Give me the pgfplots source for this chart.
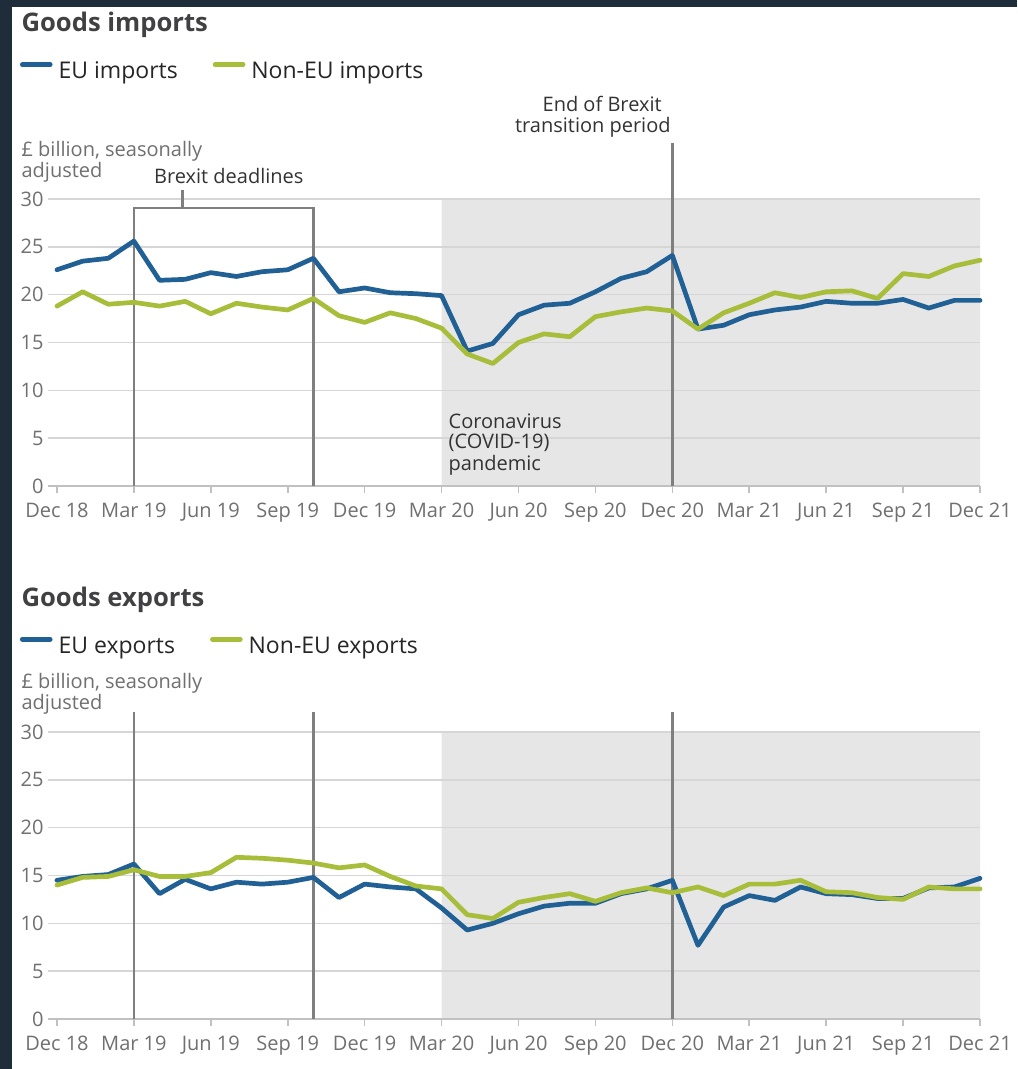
\documentclass[border=0pt]{standalone}
\usepackage{fontspec}
\setmainfont{Open Sans}
\usepackage{pgfplots}
\pgfplotsset{compat=1.18}
\usepackage{pgfplotstable}

\definecolor{euBlue}{HTML}{206095}
\definecolor{nonEU}{HTML}{A8BD3A}
\definecolor{shade}{HTML}{E6E6E6}
\definecolor{gridc}{HTML}{D6D6D6}
\definecolor{ticktxt}{HTML}{707071}
\definecolor{annot}{HTML}{333333}
\definecolor{titlec}{HTML}{414042}
\definecolor{darkbg}{HTML}{1F2D3B}
\definecolor{vline}{HTML}{7F7F7F}

% month index: 0 = Dec 18 ... 36 = Dec 21
\pgfplotstableread{
m eu noneu
0 22.6 18.8
1 23.5 20.3
2 23.8 19.0
3 25.6 19.2
4 21.5 18.8
5 21.6 19.3
6 22.3 18.0
7 21.9 19.1
8 22.4 18.7
9 22.6 18.4
10 23.8 19.6
11 20.3 17.8
12 20.7 17.1
13 20.2 18.1
14 20.1 17.5
15 19.9 16.5
16 14.1 13.8
17 14.9 12.8
18 17.9 15.0
19 18.9 15.9
20 19.1 15.6
21 20.3 17.7
22 21.7 18.2
23 22.4 18.6
24 24.1 18.3
25 16.4 16.4
26 16.8 18.1
27 17.9 19.1
28 18.4 20.2
29 18.7 19.7
30 19.3 20.3
31 19.1 20.4
32 19.1 19.6
33 19.5 22.2
34 18.6 21.9
35 19.4 23.0
36 19.4 23.6
}\imports

\pgfplotstableread{
m eu noneu
0 14.5 14.0
1 14.9 14.8
2 15.1 14.9
3 16.2 15.6
4 13.1 14.9
5 14.6 14.9
6 13.6 15.3
7 14.3 16.9
8 14.1 16.8
9 14.3 16.6
10 14.8 16.3
11 12.7 15.8
12 14.1 16.1
13 13.8 14.9
14 13.6 13.9
15 11.6 13.6
16 9.3 10.9
17 10.0 10.5
18 11.0 12.2
19 11.8 12.7
20 12.1 13.1
21 12.1 12.3
22 13.1 13.2
23 13.6 13.7
24 14.5 13.2
25 7.7 13.8
26 11.7 12.9
27 12.9 14.1
28 12.4 14.1
29 13.8 14.5
30 13.1 13.3
31 13.0 13.2
32 12.6 12.7
33 12.6 12.5
34 13.7 13.8
35 13.8 13.6
36 14.7 13.6
}\exports

\newcommand\smallfont{\fontsize{10}{12}\selectfont}

\pgfplotsset{
  tradeaxis/.style={
    width=466pt, height=143.5pt, scale only axis,
    xmin=-0.35, xmax=36, ymin=0, ymax=30,
    ytick={0,5,...,30},
    xtick={0,3,...,36},
    xticklabels={Dec 18,Mar 19,Jun 19,Sep 19,Dec 19,Mar 20,Jun 20,Sep 20,Dec 20,Mar 21,Jun 21,Sep 21,Dec 21},
    axis x line*=bottom, axis y line*=left,
    y axis line style={draw=none},
    x axis line style={draw=none},
    ytick style={draw=none},
    xtick style={draw=gridc!90!black, line width=0.8pt},
    tick align=outside, major tick length=3.3pt,
    tick label style={font=\smallfont, text=ticktxt},
    yticklabel style={xshift=4.6pt},
    xticklabel style={yshift=-1.9pt},
    /pgf/number format/assume math mode=true,
    clip=false,
    legend columns=2,
    legend cell align=left,
    legend style={draw=none, fill=none, inner sep=0pt,
      font=\fontsize{11.5}{13}\selectfont, text=black!85,
      nodes={inner sep=0pt},
      /tikz/every odd column/.append style={column sep=3pt},
      /tikz/every even column/.append style={column sep=17.5pt}},
    legend image code/.code={\draw[##1, line width=2.3pt] (0pt,3.6pt) -- (14pt,3.6pt);},
  },
  series/.style={line width=2.35pt, line join=round, line cap=round, #1},
  refline/.style={vline, line width=1.2pt, forget plot},
}

% shaded pandemic period (Mar 20 to Dec 21) and horizontal grid lines
\newcommand\pandemicandgrid{%
  \addplot[fill=shade, draw=none, forget plot]
    coordinates {(15,0) (36,0) (36,30) (15,30)} \closedcycle;
  \pgfplotsinvokeforeach{5,10,...,30}{%
    \draw[gridc, line width=0.8pt] (-0.35,##1) -- (36,##1);}
  \draw[gridc!90!black, line width=0.8pt] (-0.35,0) -- (36,0);
}

\begin{document}
\begin{tikzpicture}
\fill[darkbg] (0,0) rectangle (508.5pt,534.5pt);
\fill[white] (6pt,0) rectangle (508.5pt,531pt);

% ---- Goods imports ----
\node[anchor=base west, inner sep=0pt, font=\bfseries\fontsize{12.8}{14}\selectfont, text=titlec] at (10.6pt,518.75pt) {Goods imports};
\node[anchor=base west, inner sep=0pt, font=\smallfont, text=ticktxt] at (10.6pt,456pt) {£ billion, seasonally};
\node[anchor=base west, inner sep=0pt, font=\smallfont, text=ticktxt] at (10.6pt,445.8pt) {adjusted};

\begin{axis}[tradeaxis, at={(24pt,291.5pt)}, anchor=south west,
  legend style={at={(axis description cs:-0.0305,1.443)}, anchor=west}]
  \pandemicandgrid
  \addplot[refline] coordinates {(3,0) (3,29.05) (10,29.05) (10,0)};
  \addplot[refline] coordinates {(4.9,29.05) (4.9,30.95)};
  \addplot[refline] coordinates {(24,0) (24,35.9)};
  \addplot[series=euBlue] table[x=m, y=eu] {\imports};
  \addlegendentry{EU imports}
  \addplot[series=nonEU] table[x=m, y=noneu] {\imports};
  \addlegendentry{Non-EU imports}
  \node[anchor=base, inner sep=0pt, font=\smallfont, text=annot] at (6.7,31.64) {Brexit deadlines};
  \node[anchor=base east, inner sep=0pt, font=\smallfont, text=annot] at (23.6,39.1) {End of Brexit};
  \node[anchor=base east, inner sep=0pt, font=\smallfont, text=annot] at (23.95,36.9) {transition period};
  \node[anchor=base west, inner sep=0pt, font=\smallfont, text=annot] at (15.26,6.06) {Coronavirus};
  \node[anchor=base west, inner sep=0pt, font=\smallfont, text=annot] at (15.26,3.87) {(COVID-19)};
  \node[anchor=base west, inner sep=0pt, font=\smallfont, text=annot] at (15.26,1.67) {pandemic};
\end{axis}

% ---- Goods exports ----
\node[anchor=base west, inner sep=0pt, font=\bfseries\fontsize{12.8}{14}\selectfont, text=titlec] at (10.6pt,231.25pt) {Goods exports};
\node[anchor=base west, inner sep=0pt, font=\smallfont, text=ticktxt] at (10.6pt,190.35pt) {£ billion, seasonally};
\node[anchor=base west, inner sep=0pt, font=\smallfont, text=ticktxt] at (10.6pt,179.85pt) {adjusted};

\begin{axis}[tradeaxis, at={(24pt,25pt)}, anchor=south west,
  legend style={at={(axis description cs:-0.0305,1.298)}, anchor=west}]
  \pandemicandgrid
  \addplot[refline] coordinates {(3,0) (3,32.1)};
  \addplot[refline] coordinates {(10,0) (10,32.1)};
  \addplot[refline] coordinates {(24,0) (24,32.1)};
  \addplot[series=euBlue] table[x=m, y=eu] {\exports};
  \addlegendentry{EU exports}
  \addplot[series=nonEU] table[x=m, y=noneu] {\exports};
  \addlegendentry{Non-EU exports}
\end{axis}
\pgfresetboundingbox
\path[use as bounding box] (0,0) rectangle (508.5pt,534.5pt);
\end{tikzpicture}
\end{document}
